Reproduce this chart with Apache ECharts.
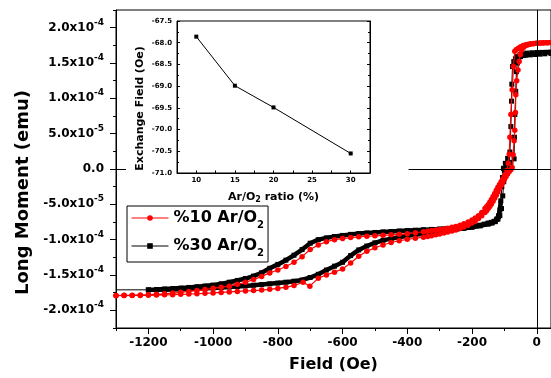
<!DOCTYPE html>
<html>
<head>
<meta charset="utf-8">
<script src="https://cdn.jsdelivr.net/npm/echarts@6/dist/echarts.min.js"></script>
<style>
  html, body { margin: 0; padding: 0; background: #fff; }
  #chart { width: 551px; height: 378px; }
</style>
</head>
<body>
<div id="chart"></div>
<script>
// moment values are in units of 1e-4 emu, field in Oe
// %10 Ar/O2, branch coming down from positive field
const loop10Down = [
  [44, 1.79], [35, 1.788], [28, 1.786], [20, 1.784], [12, 1.782], [5, 1.78], [-2, 1.778],
  [-10, 1.775], [-18, 1.772], [-26, 1.767], [-34, 1.76], [-42, 1.748], [-50, 1.73],
  [-57, 1.71], [-63, 1.69], [-68, 1.665], [-72, 1.45], [-76, 1.12], [-80, 0.77],
  [-83, 0.45], [-85, 0.21], [-88, 0.08], [-92, -0.02], [-96, -0.07], [-100, -0.1],
  [-105, -0.14], [-110, -0.18], [-115, -0.22], [-120, -0.26], [-125, -0.3], [-130, -0.345],
  [-135, -0.39], [-140, -0.43], [-145, -0.47], [-150, -0.505], [-155, -0.535], [-160, -0.56],
  [-170, -0.615], [-180, -0.66], [-190, -0.695], [-200, -0.72], [-212, -0.75], [-225, -0.775],
  [-237, -0.795], [-250, -0.812], [-262, -0.826], [-275, -0.838], [-287, -0.848], [-300, -0.857],
  [-312, -0.864], [-325, -0.872], [-337, -0.88], [-350, -0.888], [-375, -0.902], [-400, -0.915],
  [-425, -0.925], [-450, -0.932], [-475, -0.938], [-500, -0.945], [-525, -0.952], [-550, -0.96],
  [-575, -0.97], [-600, -0.985], [-625, -1.0], [-650, -1.03], [-675, -1.075], [-700, -1.14],
  [-725, -1.24], [-750, -1.32], [-775, -1.38], [-800, -1.43], [-825, -1.47], [-850, -1.52],
  [-875, -1.565], [-900, -1.603], [-925, -1.632], [-950, -1.658], [-975, -1.672], [-1000, -1.688],
  [-1025, -1.704], [-1050, -1.72], [-1075, -1.733], [-1100, -1.745], [-1125, -1.756],
  [-1150, -1.765], [-1175, -1.772], [-1200, -1.778], [-1225, -1.782], [-1250, -1.786],
  [-1275, -1.788], [-1300, -1.79]
];
// %10 Ar/O2, branch going back up
const loop10Up = [
  [-1300, -1.792], [-1275, -1.791], [-1250, -1.79], [-1225, -1.789], [-1200, -1.787],
  [-1175, -1.784], [-1150, -1.781], [-1125, -1.778], [-1100, -1.774], [-1075, -1.77],
  [-1050, -1.765], [-1025, -1.76], [-1000, -1.754], [-975, -1.747], [-950, -1.74],
  [-925, -1.733], [-900, -1.726], [-875, -1.72], [-850, -1.713], [-825, -1.703], [-800, -1.69],
  [-775, -1.672], [-750, -1.65], [-722, -1.602], [-701, -1.658], [-675, -1.545], [-650, -1.5],
  [-625, -1.46], [-600, -1.415], [-575, -1.33], [-550, -1.235], [-525, -1.165], [-500, -1.115],
  [-475, -1.075], [-450, -1.04], [-425, -1.015], [-400, -0.995], [-375, -0.98], [-350, -0.965],
  [-337, -0.955], [-325, -0.945], [-312, -0.932], [-300, -0.92], [-287, -0.907], [-275, -0.893],
  [-262, -0.878], [-250, -0.862], [-237, -0.843], [-225, -0.822], [-212, -0.795], [-200, -0.765],
  [-190, -0.735], [-180, -0.7], [-170, -0.66], [-160, -0.615], [-155, -0.59], [-150, -0.56],
  [-145, -0.53], [-140, -0.495], [-135, -0.455], [-130, -0.415], [-125, -0.37], [-120, -0.325],
  [-115, -0.28], [-110, -0.235], [-105, -0.19], [-100, -0.15], [-95, -0.11], [-90, -0.07],
  [-85, -0.035], [-80, -0.01], [-76, 0.02], [-73, 0.2], [-70, 0.4], [-68, 0.55], [-66, 0.8],
  [-64.7, 1.05], [-62, 1.25], [-58, 1.4], [-54.5, 1.52], [-51, 1.62], [-47, 1.68], [-42, 1.715],
  [-36, 1.74], [-28, 1.755], [-20, 1.765], [-10, 1.772], [0, 1.778], [10, 1.782], [20, 1.785],
  [32, 1.788], [44, 1.79]
];
// %30 Ar/O2, branch coming down
const loop30Down = [
  [44, 1.655], [30, 1.652], [15, 1.65], [0, 1.648], [-15, 1.645], [-30, 1.64], [-42, 1.63],
  [-52, 1.615], [-60, 1.59], [-66, 1.56], [-71, 1.52], [-75, 1.45], [-77, 1.2], [-78, 0.96],
  [-80, 0.6], [-83, 0.24], [-90, 0.15], [-97, 0.08], [-103, 0.01], [-106, -0.12], [-108, -0.25],
  [-111, -0.45], [-114, -0.58], [-118, -0.66], [-124, -0.71], [-132, -0.74], [-140, -0.755],
  [-150, -0.765], [-162, -0.78], [-175, -0.795], [-187, -0.805], [-200, -0.815], [-212, -0.822],
  [-225, -0.828], [-237, -0.833], [-250, -0.838], [-262, -0.842], [-275, -0.845], [-287, -0.848],
  [-300, -0.85], [-325, -0.855], [-350, -0.86], [-375, -0.866], [-400, -0.872], [-425, -0.878],
  [-450, -0.884], [-475, -0.89], [-500, -0.898], [-525, -0.905], [-550, -0.914], [-575, -0.925],
  [-600, -0.94], [-625, -0.955], [-650, -0.975], [-675, -1.0], [-700, -1.05], [-725, -1.14],
  [-750, -1.22], [-775, -1.29], [-800, -1.35], [-825, -1.405], [-850, -1.468], [-875, -1.515],
  [-900, -1.55], [-925, -1.577], [-950, -1.602], [-975, -1.625], [-1000, -1.643], [-1025, -1.655],
  [-1050, -1.666], [-1075, -1.676], [-1100, -1.685], [-1125, -1.692], [-1150, -1.698],
  [-1175, -1.705], [-1200, -1.71]
];
// %30 Ar/O2, branch going back up
const loop30Up = [
  [-1200, -1.712], [-1175, -1.71], [-1150, -1.707], [-1125, -1.704], [-1100, -1.7],
  [-1075, -1.696], [-1050, -1.692], [-1025, -1.688], [-1000, -1.683], [-975, -1.677],
  [-950, -1.67], [-925, -1.662], [-900, -1.654], [-875, -1.645], [-850, -1.636], [-825, -1.625],
  [-800, -1.614], [-775, -1.602], [-750, -1.588], [-725, -1.57], [-700, -1.535], [-675, -1.49],
  [-650, -1.43], [-625, -1.375], [-600, -1.32], [-575, -1.225], [-550, -1.145], [-525, -1.09],
  [-500, -1.045], [-475, -1.01], [-450, -0.985], [-425, -0.965], [-400, -0.945], [-375, -0.93],
  [-350, -0.915], [-325, -0.9], [-300, -0.885], [-275, -0.87], [-250, -0.855], [-225, -0.84],
  [-200, -0.825], [-175, -0.805], [-150, -0.78], [-138, -0.765], [-128, -0.745], [-120, -0.71],
  [-114, -0.66], [-109, -0.56], [-105, -0.38], [-102, -0.18], [-100, -0.02], [-90, 0.04],
  [-80, 0.09], [-70, 0.144], [-69, 0.45], [-67.8, 0.772], [-65, 1.1], [-62.8, 1.378], [-60, 1.5],
  [-56, 1.56], [-50, 1.59], [-40, 1.605], [-34, 1.61], [-20, 1.615], [-5, 1.62], [10, 1.625],
  [25, 1.63], [44, 1.635]
];
// thin lead-in of the %30 curve
const lead30 = [[-1300, -1.71], [-1200, -1.71]];

// inset: exchange field vs Ar/O2 ratio
const ratio = [10, 15, 20, 30];
const exchangeField = [-67.86, -68.99, -69.49, -70.55];

const fieldTicks = [-1200, -1000, -800, -600, -400, -200, 0];
const momentTicks = [-2, -1.5, -1, -0.5, 0, 0.5, 1, 1.5, 2];
const ratioTicks = [10, 15, 20, 25, 30];

const FONT = 'DejaVu Sans';

const chart = echarts.init(document.getElementById('chart'));

function momentLabel(v) {
  if (Math.abs(v) < 1e-9) return '{m|0.0}';
  const sign = v < 0 ? '-' : '';
  const a = Math.abs(v);
  if (a < 0.9) return '{m|' + sign + (a * 10).toFixed(1) + 'x10}{s|-5}';
  return '{m|' + sign + a.toFixed(1) + 'x10}{s|-4}';
}

const loop10 = loop10Down.concat(loop10Up);
const loop30 = loop30Down.concat(loop30Up);
// dense part of the %30 curve drawn as a thick band
const band30 = loop30Down.filter(p => p[0] <= -110).concat(loop30Up.filter(p => p[0] <= -110));

const option = {
  animation: false,
  backgroundColor: '#fff',
  grid: [
    { left: 116, right: -1, top: 10, bottom: 45, show: true, borderColor: '#000', borderWidth: 1 },
    { left: 177, right: 181, top: 21, bottom: 205, show: true, borderColor: '#000', borderWidth: 1 }
  ],
  legend: {
    data: ['%10 Ar/O2', '%30 Ar/O2'],
    orient: 'vertical',
    left: 127,
    top: 206,
    itemWidth: 37,
    itemHeight: 7,
    itemGap: 8,
    padding: [4, 4, 4, 4],
    borderColor: '#000',
    borderWidth: 1,
    backgroundColor: '#fff',
    lineStyle: { width: 1 },
    formatter: n => '{t|' + n.slice(0, -1) + '}{sub|2}',
    textStyle: {
      rich: {
        t: { fontFamily: FONT, fontWeight: 'bold', fontSize: 16, color: '#000', lineHeight: 20 },
        sub: { fontFamily: FONT, fontWeight: 'bold', fontSize: 10, color: '#000', padding: [14, 0, 0, 0] }
      }
    }
  },
  xAxis: [
    {
      gridIndex: 0, type: 'value', min: -1300, max: 44, position: 'bottom',
      axisLine: { onZero: false, lineStyle: { color: '#000', width: 1 } },
      axisTick: { customValues: fieldTicks, length: 6, lineStyle: { color: '#000' } },
      axisLabel: {
        customValues: fieldTicks, margin: 9, color: '#000',
        fontFamily: FONT, fontWeight: 'bold', fontSize: 12,
        formatter: v => String(v)
      },
      splitLine: { show: false },
      name: 'Field (Oe)', nameLocation: 'middle', nameGap: 29,
      nameTextStyle: { fontFamily: FONT, fontWeight: 'bold', fontSize: 16, color: '#000' }
    },
    {
      gridIndex: 0, type: 'value', min: -1300, max: 44, interval: 100, position: 'bottom',
      axisLine: { show: false, onZero: false },
      axisTick: { length: 3, lineStyle: { color: '#000' } },
      axisLabel: { show: false },
      splitLine: { show: false }
    },
    {
      gridIndex: 1, type: 'value', min: 7.5, max: 32.5, interval: 2.5, position: 'bottom',
      axisLine: { onZero: false, lineStyle: { color: '#000' } },
      axisTick: { inside: true, length: 2.5, lineStyle: { color: '#000' } },
      axisLabel: {
        customValues: ratioTicks, margin: 4, color: '#000',
        fontFamily: FONT, fontWeight: 'bold', fontSize: 7,
        formatter: v => String(v)
      },
      splitLine: { show: false },
      name: 'Ar/O{sub|2} ratio (%)', nameLocation: 'middle', nameGap: 17,
      nameTextStyle: {
        fontFamily: FONT, fontWeight: 'bold', fontSize: 11, color: '#000',
        rich: { sub: { fontFamily: FONT, fontWeight: 'bold', fontSize: 8, color: '#000', padding: [6, 0, 0, 0] } }
      }
    }
  ],
  yAxis: [
    {
      gridIndex: 0, type: 'value', min: -2.25, max: 2.25, position: 'left',
      axisLine: { onZero: false, lineStyle: { color: '#000', width: 1 } },
      axisTick: { customValues: momentTicks, length: 6, lineStyle: { color: '#000' } },
      axisLabel: {
        customValues: momentTicks, margin: 12, formatter: momentLabel,
        rich: {
          m: { fontFamily: FONT, fontWeight: 'bold', fontSize: 12, color: '#000' },
          s: { fontFamily: FONT, fontWeight: 'bold', fontSize: 9, color: '#000', padding: [0, 0, 11, 0] }
        }
      },
      splitLine: { show: false },
      name: 'Long Moment (emu)', nameLocation: 'middle', nameGap: 84,
      nameTextStyle: {
        fontFamily: FONT, fontWeight: 'bold', fontSize: 18, color: '#000',
        padding: [0, 47, 0, 0]
      }
    },
    {
      gridIndex: 0, type: 'value', min: -2.25, max: 2.25, interval: 0.25, position: 'left',
      axisLine: { show: false, onZero: false },
      axisTick: { length: 3, lineStyle: { color: '#000' } },
      axisLabel: { show: false },
      splitLine: { show: false }
    },
    {
      gridIndex: 1, type: 'value', min: -71, max: -67.5, interval: 0.5, position: 'left',
      axisLine: { onZero: false, lineStyle: { color: '#000' } },
      axisTick: { inside: true, length: 3, lineStyle: { color: '#000' } },
      minorTick: { show: true, splitNumber: 2, length: 2, lineStyle: { color: '#000' } },
      axisLabel: {
        margin: 5, color: '#000', fontFamily: FONT, fontWeight: 'bold', fontSize: 7,
        formatter: v => v.toFixed(1)
      },
      splitLine: { show: false },
      name: 'Exchange Field (Oe)', nameLocation: 'middle', nameGap: 31,
      nameTextStyle: {
        fontFamily: FONT, fontWeight: 'bold', fontSize: 11, color: '#000',
        padding: [0, 23, 0, 0]
      }
    },
    {
      gridIndex: 1, type: 'value', min: -71, max: -67.5, interval: 0.5, position: 'right',
      axisLine: { onZero: false, lineStyle: { color: '#000' } },
      axisTick: { inside: true, length: 3, lineStyle: { color: '#000' } },
      minorTick: { show: true, splitNumber: 2, length: 2, lineStyle: { color: '#000' } },
      axisLabel: { show: false },
      splitLine: { show: false }
    }
  ],
  series: [
    {
      name: 'lead', type: 'line', xAxisIndex: 0, yAxisIndex: 0, data: lead30,
      symbol: 'none', lineStyle: { color: '#000', width: 1 }, z: 1,
      markLine: {
        silent: true, symbol: 'none', label: { show: false },
        lineStyle: { color: '#000', width: 1, type: 'solid' },
        data: [
          { xAxis: 0 },
          [{ coord: [-1300, 0] }, { coord: [-1269, 0] }],
          [{ coord: [-396, 0] }, { coord: [44, 0] }]
        ]
      }
    },
    {
      name: 'band', type: 'line', xAxisIndex: 0, yAxisIndex: 0, data: band30,
      symbol: 'none', lineStyle: { color: '#000', width: 4.5 }, z: 2
    },
    {
      name: '%30 Ar/O2', type: 'line', xAxisIndex: 0, yAxisIndex: 0, data: loop30,
      symbol: 'rect', symbolSize: 5, showAllSymbol: true,
      itemStyle: { color: '#000' }, lineStyle: { color: '#000', width: 1 }, z: 3
    },
    {
      name: '%10 Ar/O2', type: 'line', xAxisIndex: 0, yAxisIndex: 0, data: loop10,
      symbol: 'circle', symbolSize: 5.5, showAllSymbol: true,
      itemStyle: { color: '#ff0000' }, lineStyle: { color: '#ff0000', width: 1.2 }, z: 4
    },
    {
      name: 'inset', type: 'line', xAxisIndex: 2, yAxisIndex: 2,
      data: ratio.map((r, i) => [r, exchangeField[i]]),
      symbol: 'rect', symbolSize: 4,
      itemStyle: { color: '#000' }, lineStyle: { color: '#000', width: 1 }, z: 5
    }
  ]
};

chart.setOption(option);
window.addEventListener('resize', () => chart.resize());
</script>
</body>
</html>
